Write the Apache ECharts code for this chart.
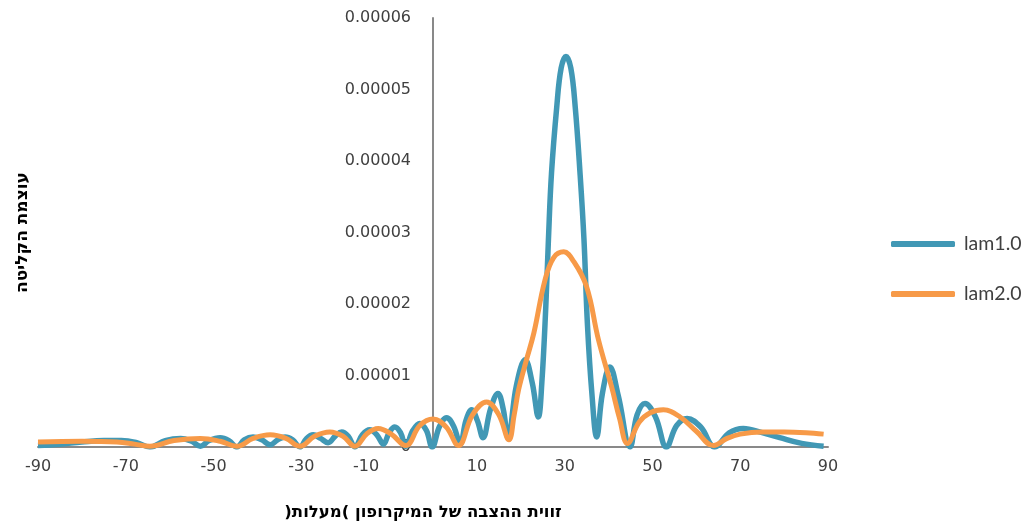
<!DOCTYPE html>
<html lang="he">

<head>
    <meta http-equiv="Content-Type" content="text/html; charset=utf-8" />
    <title>lam</title>
    <style>
        html,
        body,
        #myChart {
            width: 100%;
            height: 100%;
            margin: 0;
            padding: 0;
            overflow: hidden;
            background: #ffffff;
        }
    </style>
</head>

<body>
    <div id="myChart"></div>
    <script src="https://cdn.jsdelivr.net/npm/echarts@6/dist/echarts.min.js"></script>
    <script>
        // x tick labels (degrees)
        var xTicks = [-90, -70, -50, -30, -10, 10, 30, 50, 70, 90];

        // lam1.0 - angle / value
        var lam1Angles = [-90, -85, -80, -75, -71, -67.5, -64.5, -61, -57.5, -55, -53, -51, -48.5, -46.5, -44.7,
            -43, -41, -39, -37.1, -35.4, -33.7, -32, -30.3, -28.8, -27.3, -25.6, -23.9, -22.3, -20.8, -19.3, -17.8,
            -16.1, -14.4, -12.8, -11.3, -10, -8.7, -7.4, -6.2, -4.6, -3, -1.5, -0.2, 1.5, 3.1, 4.7, 6.2,
            7.5, 8.8, 10.1, 11.4, 13.1, 14.8, 16, 17.1, 19, 21, 22.6, 24, 24.8, 25.7, 26.3, 27, 28.2, 29.2, 30.3,
            31.4, 32.4, 33.5, 34.4, 35.2, 36.2, 37.3, 38.6, 40.3, 42.2, 44.9, 46.5, 48.3, 50.7, 53.2,
            55.5, 57.9, 61, 64.2, 67.5, 70.7, 75, 79, 84, 89];
        var lam1Values = [0.02e-5, 0.04e-5, 0.07e-5, 0.09e-5, 0.09e-5, 0.06e-5, 0, 0.09e-5, 0.12e-5, 0.08e-5, 0.01e-5, 0.09e-5, 0.13e-5, 0.09e-5, 0,
            0.1e-5, 0.14e-5, 0.1e-5, 0.03e-5, 0.1e-5, 0.14e-5, 0.1e-5, 0, 0.12e-5, 0.17e-5, 0.12e-5, 0.06e-5, 0.15e-5, 0.21e-5, 0.15e-5, 0,
            0.17e-5, 0.24e-5, 0.17e-5, 0.04e-5, 0.2e-5, 0.28e-5, 0.2e-5, 0.01e-5, 0.23e-5, 0.33e-5, 0.23e-5, 0, 0.29e-5, 0.41e-5, 0.29e-5, 0.04e-5,
            0.37e-5, 0.52e-5, 0.37e-5, 0.13e-5, 0.53e-5, 0.75e-5, 0.53e-5, 0.13e-5, 0.86e-5, 1.22e-5, 0.9e-5, 0.42e-5, 0.9e-5, 1.96e-5, 2.9e-5, 3.83e-5, 4.76e-5, 5.3e-5, 5.46e-5,
            5.3e-5, 4.76e-5, 3.83e-5, 2.9e-5, 1.7e-5, 0.75e-5, 0.14e-5, 0.75e-5, 1.12e-5, 0.72e-5, 0, 0.45e-5, 0.61e-5, 0.42e-5, 0,
            0.3e-5, 0.4e-5, 0.28e-5, 0, 0.2e-5, 0.26e-5, 0.2e-5, 0.13e-5, 0.05e-5, 0.01e-5];

        // lam2.0
        var lam2Angles = [-90, -80, -72, -68, -64.5, -59, -53, -48.5, -44.7, -41, -37.1, -33.5, -30.3, -27, -23.5,
            -20.5, -17.8, -15, -12.5, -9.5, -6.2, -3, 0, 3, 5.8, 9, 12.2, 15, 17.3, 18.5, 19.5, 21.3, 23, 25.5,
            27.5, 29.8, 32, 35, 37.7, 40.7, 42.5, 44.3, 47, 49.5, 52.5, 56.3, 60, 63.9, 67, 70, 75, 80, 85, 89];
        var lam2Values = [0.07e-5, 0.08e-5, 0.07e-5, 0.04e-5, 0.01e-5, 0.09e-5, 0.12e-5, 0.08e-5, 0.01e-5, 0.12e-5, 0.17e-5, 0.12e-5, 0.01e-5, 0.15e-5, 0.21e-5,
            0.15e-5, 0.01e-5, 0.19e-5, 0.26e-5, 0.18e-5, 0.02e-5, 0.3e-5, 0.39e-5, 0.28e-5, 0.02e-5, 0.45e-5, 0.63e-5, 0.45e-5, 0.1e-5, 0.45e-5, 0.8e-5, 1.22e-5, 1.6e-5, 2.33e-5,
            2.65e-5, 2.73e-5, 2.6e-5, 2.24e-5, 1.5e-5, 0.84e-5, 0.4e-5, 0.05e-5, 0.35e-5, 0.48e-5, 0.52e-5, 0.42e-5, 0.22e-5, 0.02e-5, 0.12e-5, 0.18e-5, 0.21e-5, 0.21e-5, 0.2e-5, 0.18e-5];

        function pairs(xs, ys) {
            var out = [];
            for (var i = 0; i < xs.length; i++) {
                out.push([xs[i], ys[i]]);
            }
            return out;
        }

        var myChart = echarts.init(document.getElementById('myChart'));
        var option = {
            animation: false,
            grid: {
                left: 38,
                right: 199,
                top: 18,
                bottom: 77,
                containLabel: false,
                outerBoundsMode: 'none'
            },
            legend: {
                orient: 'vertical',
                left: 886,
                top: 229,
                itemGap: 30,
                itemWidth: 64,
                itemHeight: 6,
                icon: 'roundRect',
                textStyle: {
                    fontFamily: 'Lato',
                    fontSize: 19.5,
                    color: '#404040',
                    padding: [0, 0, 0, 4]
                },
                data: ['lam1.0', 'lam2.0']
            },
            xAxis: {
                type: 'value',
                min: -90,
                max: 90,
                // RLM marks keep the whole title right-to-left, as in the source picture
                name: '\u200Fזווית ההצבה של המיקרופון )מעלות(\u200F',
                nameLocation: 'middle',
                nameGap: 57,
                nameTextStyle: {
                    fontFamily: 'DejaVu Sans',
                    fontSize: 16.5,
                    fontWeight: 'bold',
                    color: '#000000',
                    padding: [0, 20, 0, 0]
                },
                axisLine: { lineStyle: { color: '#898989', width: 2 } },
                axisTick: { show: false },
                splitLine: { show: false },
                axisLabel: {
                    customValues: xTicks,
                    margin: 12,
                    fontFamily: 'DejaVu Sans',
                    fontSize: 16,
                    color: '#404040',
                    // the -10 label sits left of the "0" of the y axis
                    formatter: function (v) {
                        return v === -10 ? '{shift|-10}' : String(v);
                    },
                    rich: {
                        shift: {
                            fontFamily: 'DejaVu Sans',
                            fontSize: 16,
                            color: '#404040',
                            padding: [0, 46, 0, 0]
                        }
                    }
                }
            },
            yAxis: {
                type: 'value',
                min: 0,
                max: 0.00006,
                interval: 0.00001,
                offset: -395,
                name: 'עוצמת הקליטה',
                nameLocation: 'middle',
                nameRotate: 90,
                nameGap: 402,
                nameTextStyle: {
                    fontFamily: 'DejaVu Sans',
                    fontSize: 17,
                    fontWeight: 'bold',
                    color: '#000000'
                },
                axisLine: { show: true, onZero: false, lineStyle: { color: '#898989', width: 2 } },
                axisTick: { show: false },
                splitLine: { show: false },
                axisLabel: {
                    margin: 22,
                    fontFamily: 'DejaVu Sans',
                    fontSize: 16,
                    color: '#404040',
                    formatter: function (v) {
                        return v === 0 ? '0' : v.toFixed(5);
                    }
                }
            },
            series: [{
                name: 'lam1.0',
                type: 'line',
                smooth: 0.4,
                showSymbol: false,
                data: pairs(lam1Angles, lam1Values),
                itemStyle: { color: '#4198b5' },
                lineStyle: { color: '#4198b5', width: 5.5 }
            }, {
                name: 'lam2.0',
                type: 'line',
                smooth: 0.4,
                showSymbol: false,
                data: pairs(lam2Angles, lam2Values),
                itemStyle: { color: '#f79a48' },
                lineStyle: { color: '#f79a48', width: 5 }
            }]
        };
        myChart.setOption(option);
    </script>
</body>

</html>
